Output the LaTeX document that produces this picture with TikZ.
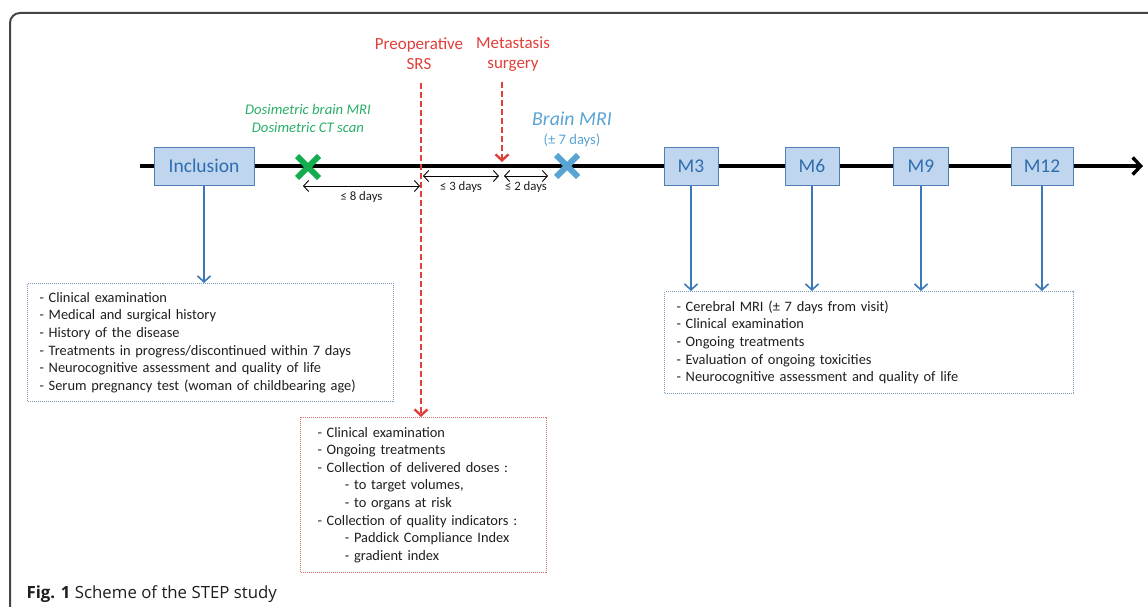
\documentclass[tikz,border=0pt]{standalone}
\usepackage{fontspec}
\setmainfont{Carlito}
\newfontfamily\capfont{Open Sans}
\usepackage{xcolor}
\usetikzlibrary{arrows.meta}

\definecolor{boxblue}{HTML}{C0D6EE}
\definecolor{lineblue}{HTML}{4F7FB5}
\definecolor{arrblue}{HTML}{3A78B8}
\definecolor{txtblue}{HTML}{2E6DB0}
\definecolor{srsred}{HTML}{E0403A}
\definecolor{xgreen}{HTML}{13AD4F}
\definecolor{mrigreen}{HTML}{2AAE68}
\definecolor{mriblue}{HTML}{5AA4D4}
\definecolor{dotblue}{HTML}{7E9DBE}
\definecolor{dotred}{HTML}{D8706A}
\definecolor{framegray}{HTML}{454545}
\definecolor{listtext}{HTML}{1E1E1E}

\tikzset{
  visit/.style={draw=lineblue, fill=boxblue, line width=1pt, text=txtblue,
    font=\fontsize{19.5}{22}\selectfont, minimum height=38, inner xsep=3},
  itemlist/.style={anchor=north west, align=left, text=listtext,
    font=\fontsize{14.4}{17.6}\selectfont, densely dotted, line width=1pt},
  down/.style={arrblue, line width=1.6pt, -{Straight Barb[length=6pt,width=13pt]}},
  gap/.style={line width=0.9pt,
    {Straight Barb[length=5pt,width=11pt]}-{Straight Barb[length=5pt,width=11pt]}},
  gaplbl/.style={font=\fontsize{12.8}{14}\selectfont, text=listtext},
  redlbl/.style={text=srsred, align=center, font=\fontsize{17}{20}\selectfont},
  reddash/.style={srsred, line width=2.4pt, dash pattern=on 6pt off 3pt,
    -{Straight Barb[length=6pt,width=13pt]}},
  cross/.style={line width=6pt},
}

\begin{document}
\begin{tikzpicture}[x=1pt,y=-1pt]
  \useasboundingbox (0,0) rectangle (1148,607);
  \draw[framegray, line width=2pt, rounded corners=10] (10,630) -- (10,13) -- (1170,13);

  \path (140,166) coordinate (tstart) (1143,166) coordinate (tend);
  \draw[line width=3.4pt, -{Straight Barb[length=8pt,width=17pt]}] (tstart) -- (tend);

  \node[visit, minimum width=100] (incl) at (204,166) {Inclusion};
  \node[visit, minimum width=54] (m3) at (691,166) {M3};
  \node[visit, minimum width=54] (m6) at (812,166) {M6};
  \node[visit, minimum width=55] (m9) at (921,166) {M9};
  \node[visit, minimum width=62] (m12) at (1042,166) {M12};

  \node[redlbl] (srs) at (419,54) {Preoperative\\SRS};
  \node[redlbl] (surg) at (513,54) {Metastasis\\surgery};
  \node[text=mrigreen, align=center, font=\fontsize{14.7}{18}\selectfont\itshape]
    (dosi) at (308,118) {Dosimetric brain MRI\\Dosimetric CT scan};
  \node[text=mriblue, font=\fontsize{19.8}{22}\selectfont\itshape] (bmri) at (572,119) {Brain MRI};
  \node[text=mriblue, font=\fontsize{14.6}{16}\selectfont] (bmrid) at (572,140) {(± 7 days)};

  \path (308,167) coordinate (ctx) (567,166) coordinate (mrix);
  \draw[cross, xgreen] (ctx) +(-11,-11) -- +(11,11) +(-11,11) -- +(11,-11);
  \draw[cross, mriblue] (mrix) +(-11,-11) -- +(11,11) +(-11,11) -- +(11,-11);

  \node[itemlist, draw=dotblue, minimum width=366, minimum height=118,
    text width=342, inner xsep=12] (incllist) at (27,283)
    {- Clinical examination\\
     - Medical and surgical history\\
     - History of the disease\\
     - Treatments in progress/discontinued within 7 days\\
     - Neurocognitive assessment and quality of life\\
     - Serum pregnancy test (woman of childbearing age)};
  \node[itemlist, draw=dotred, minimum width=246, minimum height=155,
    text width=212, inner xsep=17] (srslist) at (300,417)
    {- Clinical examination\\
     - Ongoing treatments\\
     - Collection of delivered doses :\\
     \hspace*{1.9em}- to target volumes,\\
     \hspace*{1.9em}- to organs at risk\\
     - Collection of quality indicators :\\
     \hspace*{1.9em}- Paddick Compliance Index\\
     \hspace*{1.9em}- gradient index};
  \node[itemlist, draw=dotblue, minimum width=409, minimum height=102,
    text width=385, inner xsep=12] (mlist) at (664,291)
    {- Cerebral MRI (± 7 days from visit)\\
     - Clinical examination\\
     - Ongoing treatments\\
     - Evaluation of ongoing toxicities\\
     - Neurocognitive assessment and quality of life};

  \draw[down] (incl.south) -- (incl.south |- incllist.north);
  \foreach \m in {m3,m6,m9,m12}
    \draw[down] (\m.south) -- (\m.south |- mlist.north);

  \path (421,83) coordinate (srstop) (502,82) coordinate (surgtop) (502,162) coordinate (surgpt);
  \draw[reddash] (srstop) -- (srstop |- srslist.north);
  \draw[reddash] (surgtop) -- (surgpt);

  \path (303,186) coordinate (d8a) (420,186) coordinate (d8b)
        (423,176) coordinate (d3a) (499,176) coordinate (d3b)
        (504,176) coordinate (d2a) (548,176) coordinate (d2b);
  \draw[gap] (d8a) -- (d8b) node[gaplbl, midway, below=2pt] {≤ 8 days};
  \draw[gap] (d3a) -- (d3b) node[gaplbl, midway, below=2pt] {≤ 3 days};
  \draw[gap] (d2a) -- (d2b) node[gaplbl, midway, below=2pt] {≤ 2 days};

  \node[anchor=west, text=listtext, font=\capfont\fontsize{16.8}{18}\selectfont]
    (cap) at (23,594) {\textbf{Fig. 1} Scheme of the STEP study};
\end{tikzpicture}
\end{document}
